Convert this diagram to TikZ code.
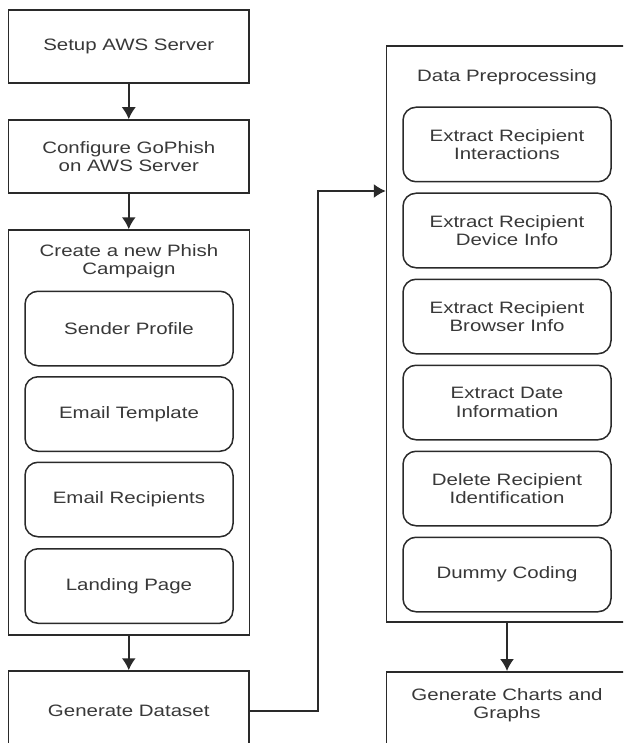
\documentclass[tikz,border=0pt]{standalone}
\usepackage{fontspec}
\setmainfont[FakeStretch=1.24]{Liberation Sans}
\usetikzlibrary{arrows.meta}
\usetikzlibrary{calc}

\definecolor{edge}{HTML}{2A2A2A}
\definecolor{ink}{HTML}{383838}

\tikzset{
    plain/.style={draw=edge, line width=1.5pt, rectangle, minimum width=240.5pt,
        align=center, text=ink, font=\fontsize{16.5}{18.5}\selectfont, inner sep=0pt},
    group/.style={plain, minimum width=241pt},
    task/.style={plain, rounded corners=13pt, minimum width=208pt, minimum height=74.5pt},
    title/.style={align=center, text=ink, font=\fontsize{16.5}{18}\selectfont, inner sep=0pt},
    flow/.style={draw=edge, line width=1.5pt, -{Latex[length=12pt,width=14pt]}}
}

\begin{document}
\begin{tikzpicture}[x=1pt,y=-1pt]
\useasboundingbox (0,0) rectangle (623,743);
\clip (0,0) rectangle (623,743);

% left column
\node[plain, minimum height=73pt] (setup) at (128.75,46.5) {Setup AWS Server};
\node[plain, minimum height=73pt] (config) at (128.75,156.5) {Configure GoPhish\\on AWS Server};
\node[group, minimum height=405pt] (campaign) at (128.75,432.5) {};
\node[title] (campaigntitle) at (129,261) {Create a new Phish\\Campaign};

\node[task] (sender) at (129,328.5) {Sender Profile};
\node[task] (template) at (129,414) {Email Template};
\node[task] (recip) at (129,499.5) {Email Recipients};
\node[task] (landing) at (129,586) {Landing Page};

\node[plain, minimum height=80pt] (dataset) at (128.75,711) {Generate Dataset};

% right column
\node[group, minimum height=576pt] (prep) at (507,334) {};
\node[title] (preptitle) at (507,77) {Data Preprocessing};

\node[task] (interact) at (507,144.5) {Extract Recipient\\Interactions};
\node[task] (device) at (507,230.5) {Extract Recipient\\Device Info};
\node[task] (browser) at (507,316.5) {Extract Recipient\\Browser Info};
\node[task] (date) at (507,402.5) {Extract Date\\Information};
\node[task] (anon) at (507,488.5) {Delete Recipient\\Identification};
\node[task] (dummy) at (507,574.5) {Dummy Coding};

\node[group, minimum height=90pt, anchor=north,
      label={[title, yshift=12pt]center:Generate Charts and\\Graphs}] (charts) at (507,671) {};

% connectors
\draw[flow] (setup) -- (config);
\draw[flow] (config) -- (campaign);
\draw[flow] (campaign) -- (dataset);

\coordinate (turn) at (318,191);
\draw[flow] (dataset.east) -| (turn) -- (turn -| prep.west);

\draw[flow] (prep) -- (charts);
\end{tikzpicture}
\end{document}
